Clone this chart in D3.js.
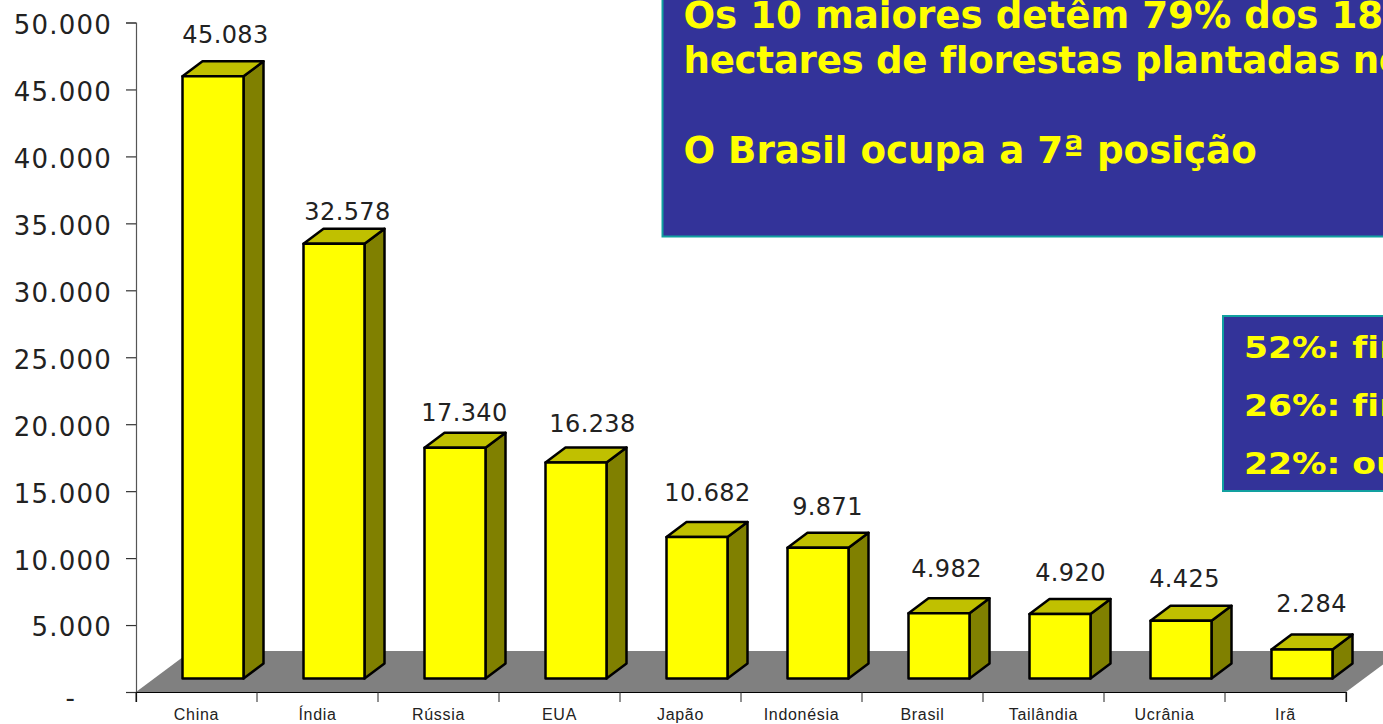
<!DOCTYPE html>
<html>
<head>
<meta charset="utf-8">
<script src="https://cdn.jsdelivr.net/npm/d3@7"></script>
<style>
    html, body { margin: 0; padding: 0; background: #fff; overflow: hidden; }
    svg { display: block; }
    .axis text { font-family: "DejaVu Sans", sans-serif; fill: #222; }
    .cat text { font-family: "Liberation Sans", Arial, sans-serif; fill: #222; }
    .box-text { font-variant-ligatures: none; }
</style>
</head>
<body>
<svg id="chart" width="1383" height="724"></svg>
<script>
// Data
var categories = ["China", "Índia", "Rússia", "EUA", "Japão", "Indonésia", "Brasil", "Tailândia", "Ucrânia", "Irã"];
var values = [45083, 32578, 17340, 16238, 10682, 9871, 4982, 4920, 4425, 2284];
var yTicks = [0, 5000, 10000, 15000, 20000, 25000, 30000, 35000, 40000, 45000, 50000];

// the data labels were dragged by hand in the original, so they need a nudge
var labelNudgeX = [1, 2, -2, 5, -1, -2, -4, -1, -8, -2];
var labelNudgeY = [-1, 8, 5, 1, -4, -1, -4, -1, -2, -5];

var boxLines = ["Os 10 maiores detêm 79% dos 18", "hectares de florestas plantadas no", "", "O Brasil ocupa a 7ª posição"];
var shareLines = ["52%: fin", "26%: fin", "22%: ou"];

// Dimensions
var svg = d3.select("#chart");
var axisLeft = 136;
var axisRight = 1346;
var axisTop = 22.5;
var axisBottom = 692;
var floorDepthX = 55;
var floorDepthY = 41;
var barDepthX = 20;
var barDepthY = 15;
var barWidth = 61;
var barInset = 46.5;

//Axis
var x = d3.scaleBand().domain(categories).range([axisLeft, axisRight]);
var y = d3.scaleLinear().domain([0, 50000]).range([axisBottom, axisTop]);

var ptBr = d3.formatLocale({ decimal: ",", thousands: ".", grouping: [3], currency: ["", ""] });
var fmt = ptBr.format(",d");

// Floor
svg.append("path")
    .attr("d", d3.line()([
        [axisLeft, axisBottom],
        [axisLeft + floorDepthX, axisBottom - floorDepthY],
        [axisRight + floorDepthX, axisBottom - floorDepthY],
        [axisRight, axisBottom]
    ]) + "Z")
    .attr("fill", "#808080");

// Y axis
var gy = svg.append("g")
    .attr("class", "axis")
    .attr("transform", "translate(" + axisLeft + ",0)")
    .call(d3.axisLeft(y)
        .tickValues(yTicks)
        .tickSize(10)
        .tickPadding(14)
        .tickFormat(function(d) { return d === 0 ? "-" : fmt(d); }));

gy.select(".domain").attr("stroke", "#555").attr("stroke-width", 1.2);
gy.selectAll(".tick line").attr("stroke", "#333").attr("stroke-width", 1.2);
gy.selectAll(".tick text")
    .attr("font-size", 26)
    .attr("letter-spacing", "1.2px")
    .attr("dy", "0.42em");
gy.selectAll(".tick text")
    .filter(function(d) { return d === 0; })
    .attr("x", -60)
    .attr("dy", "0.55em");

// X axis
var gx = svg.append("g")
    .attr("class", "cat")
    .attr("transform", "translate(0," + axisBottom + ")")
    .call(d3.axisBottom(x).tickSizeOuter(10).tickSize(10).tickPadding(7));

gx.select(".domain").attr("stroke", "#000").attr("stroke-width", 1.2);
gx.selectAll(".tick line")
    .attr("stroke", "#222")
    .attr("transform", "translate(" + (-x.step() / 2) + ",0)");
gx.append("line")
    .attr("x1", axisRight).attr("x2", axisRight)
    .attr("y1", 0).attr("y2", 10)
    .attr("stroke", "#222");
gx.selectAll(".tick text")
    .attr("font-size", 16)
    .attr("letter-spacing", "0.7px");

// Bars
var barData = categories.map(function(c, i) {
    return { name: c, value: values[i], nudgeX: labelNudgeX[i], nudgeY: labelNudgeY[i] };
});

function barLeft(d) { return x(d.name) + barInset; }
function barTop(d) { return y(d.value) - 12; }
var barBottom = y(0) - 13.5;

var bars = svg.selectAll(".bar")
    .data(barData)
    .enter().append("g")
    .attr("class", "bar")
    .attr("stroke", "#000")
    .attr("stroke-width", 2.5)
    .attr("stroke-linejoin", "round");

// side wall
bars.append("path")
    .attr("fill", "#808000")
    .attr("d", function(d) {
        var r = barLeft(d) + barWidth, t = barTop(d);
        return d3.line()([
            [r, t], [r + barDepthX, t - barDepthY],
            [r + barDepthX, barBottom - barDepthY], [r, barBottom]
        ]) + "Z";
    });

// top
bars.append("path")
    .attr("fill", "#c0c000")
    .attr("d", function(d) {
        var l = barLeft(d), t = barTop(d);
        return d3.line()([
            [l, t], [l + barDepthX, t - barDepthY],
            [l + barWidth + barDepthX, t - barDepthY], [l + barWidth, t]
        ]) + "Z";
    });

// front
bars.append("rect")
    .attr("fill", "#ffff00")
    .attr("x", barLeft)
    .attr("y", barTop)
    .attr("width", barWidth)
    .attr("height", function(d) { return barBottom - barTop(d); });

// Value labels
svg.selectAll(".value-label")
    .data(barData)
    .enter().append("text")
    .attr("class", "value-label")
    .attr("text-anchor", "middle")
    .attr("font-family", "'DejaVu Sans', sans-serif")
    .attr("font-size", 24)
    .attr("letter-spacing", "0.4px")
    .attr("fill", "#222")
    .attr("x", function(d) { return barLeft(d) + barWidth / 2 + 11.5 + d.nudgeX; })
    .attr("y", function(d) { return barTop(d) - 32 + d.nudgeY; })
    .text(function(d) { return fmt(d.value); });

// Text boxes, both run off the page on the right
function textBox(left, top, bottom, fontSize, lines, firstBase, lineGap, stretch) {
    svg.append("rect")
        .attr("x", left).attr("y", top)
        .attr("width", 1383 - left + 20).attr("height", bottom - top)
        .attr("fill", "#333399")
        .attr("stroke", "#12a0a0")
        .attr("stroke-width", 2);

    svg.selectAll(null)
        .data(lines)
        .enter().append("text")
        .attr("class", "box-text")
        .attr("transform", function(d, i) {
            return "translate(" + (left + 21) + "," + (firstBase + i * lineGap) + ") scale(" + stretch + ",1)";
        })
        .attr("font-family", "'DejaVu Sans', sans-serif")
        .attr("font-weight", "bold")
        .attr("font-size", fontSize)
        .attr("fill", "#ffff00")
        .text(function(d) { return d; });
}

textBox(662.5, -20, 236.5, 37.2, boxLines, 28, 45, 1);
textBox(1223, 316, 491, 30, shareLines, 358, 58, 1.15);

// second title line is a touch tighter in the original
svg.selectAll(".box-text")
    .filter(function(d) { return d === boxLines[1]; })
    .attr("letter-spacing", "-0.3px");
</script>
</body>
</html>
